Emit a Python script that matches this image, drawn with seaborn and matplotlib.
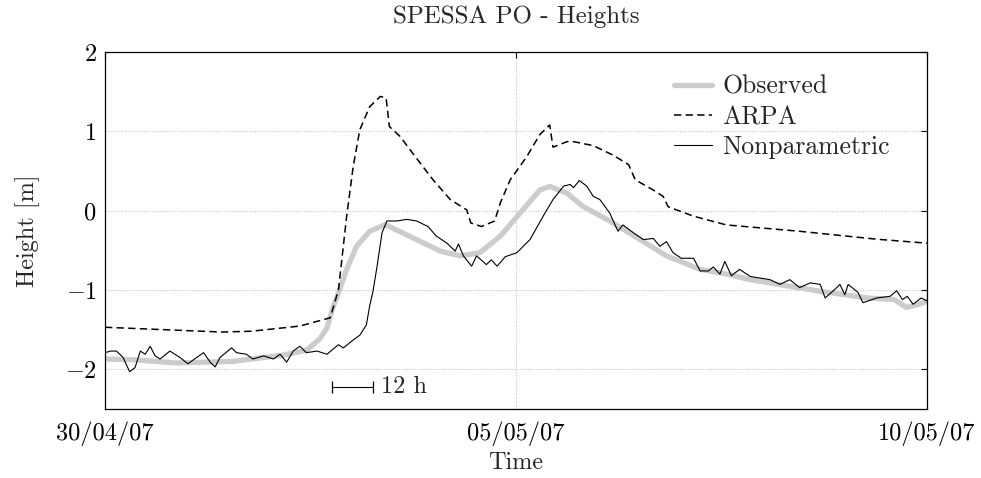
import matplotlib
matplotlib.use("Agg")
import matplotlib.pyplot as plt
import seaborn as sns
import pandas as pd

# ---- data (time in days since 30/04/07 00:00, height in m) ----
obs_t = [0, 0.35, 0.87, 1.56, 2.17, 2.45, 2.61, 2.70, 2.78, 2.86, 2.94, 3.06, 3.22, 3.41,
         3.60, 3.79, 4.08, 4.32, 4.56, 4.81, 5.05, 5.29, 5.41, 5.62, 5.82, 6.14, 6.51,
         6.83, 7.24, 7.56, 7.85, 8.66, 9.27, 9.60, 9.75, 9.90, 10]
obs_h = [-1.87, -1.88, -1.92, -1.90, -1.82, -1.76, -1.62, -1.48, -1.20, -0.98, -0.74, -0.45,
         -0.26, -0.176, -0.27, -0.365, -0.51, -0.57, -0.53, -0.32, -0.03, 0.26, 0.305, 0.22,
         0.05, -0.13, -0.365, -0.57, -0.74, -0.80, -0.87, -1.01, -1.10, -1.12, -1.22, -1.18,
         -1.14]

arpa_t = [0, 1.42, 1.78, 2.37, 2.74, 2.84, 2.94, 3.02, 3.10, 3.22, 3.35, 3.42, 3.46, 3.59,
          3.79, 3.99, 4.20, 4.40, 4.45, 4.58, 4.74, 4.81, 4.93, 5.13, 5.29, 5.41, 5.45, 5.62,
          5.70, 5.94, 6.18, 6.37, 6.45, 6.67, 6.79, 6.85, 7.16, 7.56, 8.45, 9.39, 10]
arpa_h = [-1.47, -1.53, -1.52, -1.455, -1.35, -1.0, -0.07, 0.56, 1.02, 1.31, 1.44, 1.42,
          1.06, 0.935, 0.66, 0.39, 0.14, 0.01, -0.155, -0.20, -0.13, 0.10, 0.39, 0.68, 0.96,
          1.08, 0.80, 0.87, 0.87, 0.82, 0.70, 0.58, 0.39, 0.26, 0.18, 0.05, -0.07, -0.18,
          -0.26, -0.36, -0.41]

nonpar_t = [0, 0.07, 0.14, 0.22, 0.30, 0.365, 0.43, 0.49, 0.55, 0.61,
            0.67, 0.79, 0.91, 1.01, 1.09, 1.20, 1.28, 1.34, 1.40, 1.54,
            1.60, 1.72, 1.80, 1.93, 2.05, 2.13, 2.21, 2.29, 2.37, 2.45,
            2.58, 2.70, 2.84, 2.90, 3.02, 3.10, 3.18, 3.22, 3.26, 3.31,
            3.37, 3.43, 3.55, 3.67, 3.79, 3.93, 4.03, 4.16, 4.26, 4.30,
            4.36, 4.46, 4.52, 4.64, 4.70, 4.77, 4.87, 5.01, 5.17, 5.33,
            5.45, 5.58, 5.66, 5.70, 5.77, 5.86, 5.94, 6.02, 6.14, 6.24,
            6.30, 6.43, 6.55, 6.67, 6.75, 6.83, 6.91, 7.01, 7.16, 7.24,
            7.34, 7.40, 7.48, 7.54, 7.62, 7.72, 7.85, 7.97, 8.09, 8.21,
            8.33, 8.45, 8.58, 8.70, 8.76, 8.86, 8.94, 9.00, 9.04, 9.16,
            9.22, 9.39, 9.55, 9.63, 9.70, 9.76, 9.83, 9.93, 10]
nonpar_h = [-1.79, -1.77, -1.77, -1.85, -2.03, -1.98, -1.77, -1.81, -1.71, -1.83,
            -1.87, -1.77, -1.85, -1.93, -1.87, -1.79, -1.91, -1.97, -1.85, -1.73,
            -1.79, -1.81, -1.87, -1.83, -1.87, -1.81, -1.91, -1.77, -1.71, -1.79,
            -1.77, -1.81, -1.69, -1.73, -1.63, -1.57, -1.44, -1.20, -1.02, -0.70,
            -0.28, -0.13, -0.13, -0.11, -0.13, -0.20, -0.32, -0.41, -0.51, -0.42,
            -0.57, -0.70, -0.57, -0.68, -0.62, -0.70, -0.58, -0.53, -0.365, -0.07,
            0.14, 0.31, 0.33, 0.29, 0.38, 0.31, 0.18, 0.14, -0.03, -0.26,
            -0.18, -0.28, -0.365, -0.35, -0.45, -0.39, -0.53, -0.60, -0.60, -0.76,
            -0.76, -0.71, -0.80, -0.64, -0.82, -0.74, -0.83, -0.85, -0.87, -0.93,
            -0.87, -0.97, -0.91, -0.93, -1.10, -1.01, -0.93, -1.06, -0.93, -1.03,
            -1.16, -1.10, -1.08, -1.01, -1.12, -1.08, -1.18, -1.10, -1.14]

x_tick_pos = [0, 5, 10]
x_tick_labels = ["30/04/07", "05/05/07", "10/05/07"]
y_ticks = [-2, -1, 0, 1, 2]
scale_bar_start = 2.76
scale_bar_len = 0.5   # 12 h
scale_bar_y = -2.22

# ---- style ----
sns.set_theme(style="white")
plt.rcParams.update({
    "font.family": "serif",
    "font.serif": ["cmr10"],
    "mathtext.fontset": "cm",
    "axes.formatter.use_mathtext": True,
    "axes.unicode_minus": True,
    "lines.dashed_pattern": [4.8, 2.8],
})
FS = 17.5

fig = plt.figure(figsize=(9.81, 4.78), dpi=100)
ax = fig.add_axes([0.107, 0.1444, 0.838, 0.7468])

df_obs = pd.DataFrame({"t": obs_t, "h": obs_h})
df_arpa = pd.DataFrame({"t": arpa_t, "h": arpa_h})
df_np = pd.DataFrame({"t": nonpar_t, "h": nonpar_h})

sns.lineplot(data=df_obs, x="t", y="h", ax=ax, color="#cccccc", lw=3.8,
             label="Observed", estimator=None, sort=False)
sns.lineplot(data=df_arpa, x="t", y="h", ax=ax, color="black", lw=1.1, ls="--",
             label="ARPA", estimator=None, sort=False)
sns.lineplot(data=df_np, x="t", y="h", ax=ax, color="black", lw=0.8,
             label="Nonparametric", estimator=None, sort=False)

# scale bar
ax.plot([scale_bar_start, scale_bar_start + scale_bar_len], [scale_bar_y, scale_bar_y],
        color="black", lw=0.8, marker="|", ms=9, mew=0.9)
ax.text(scale_bar_start + scale_bar_len + 0.1, scale_bar_y, "12 h", fontsize=FS,
        va="center", ha="left")

ax.set_xlim(0, 10)
ax.set_ylim(-2.5, 2)
ax.set_xticks(x_tick_pos)
ax.set_xticklabels(x_tick_labels)
ax.set_yticks(y_ticks)
ax.tick_params(direction="in", top=True, right=True, length=4.5, width=0.8,
               labelsize=FS, colors="black")
ax.tick_params(axis="x", pad=9)
ax.tick_params(axis="y", pad=6)
ax.grid(True, ls=":", color="#bbbbbb", lw=0.7)
for s in ax.spines.values():
    s.set_visible(True)
    s.set_color("black")
    s.set_linewidth(0.9)

ax.set_xlabel("Time", fontsize=FS, labelpad=4)
ax.set_ylabel("Height [m]", fontsize=FS, labelpad=18)
ax.set_title("SPESSA PO - Heights", fontsize=18, pad=21)

ax.legend(loc="upper right", bbox_to_anchor=(0.955, 0.935), frameon=False,
          fontsize=18.5, handlelength=1.5, handletextpad=0.4, labelspacing=0.25,
          borderaxespad=0, borderpad=0)

fig.savefig("out.png", dpi=100)
